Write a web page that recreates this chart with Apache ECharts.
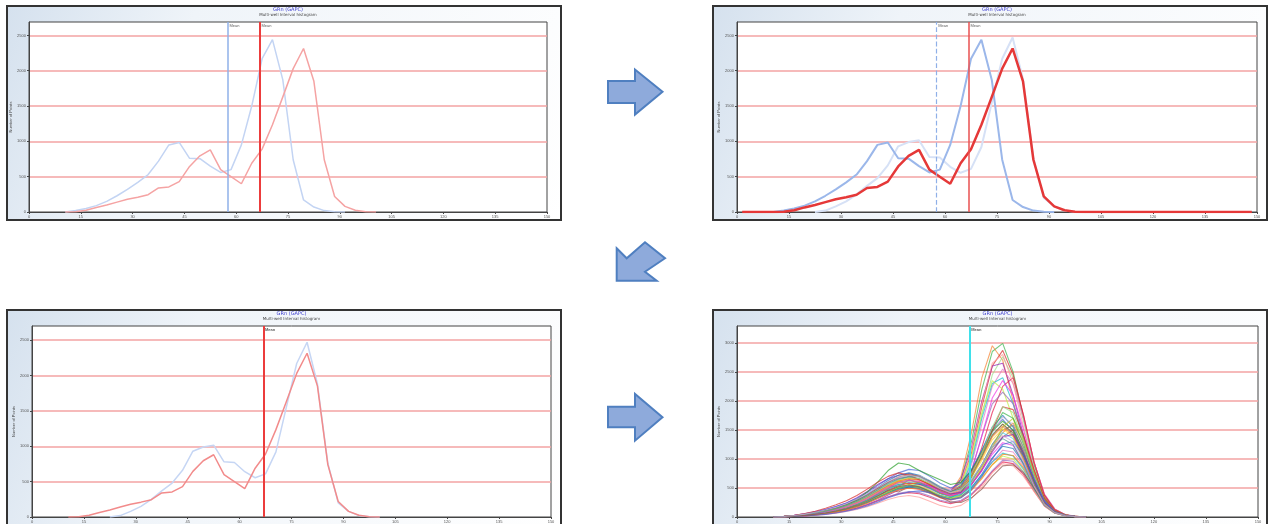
<!DOCTYPE html>
<html>
<head>
<meta charset="utf-8">
<style>
  html, body { margin: 0; padding: 0; background: #fff; }
  #chart { width: 1271px; height: 524px; }
</style>
<script src="https://cdn.jsdelivr.net/npm/echarts/dist/echarts.min.js"></script>
</head>
<body>
<div id="chart"></div>
<script>
// bin centres of the interval histogram (bin width 3)
var binCenters = [1.5, 4.5, 7.5, 10.5, 13.5, 16.5, 19.5, 22.5, 25.5, 28.5, 31.5, 34.5, 37.5, 40.5, 43.5,
  46.5, 49.5, 52.5, 55.5, 58.5, 61.5, 64.5, 67.5, 70.5, 73.5, 76.5, 79.5, 82.5, 85.5, 88.5, 91.5, 94.5,
  97.5, 100.5, 103.5, 106.5, 109.5, 112.5, 115.5, 118.5, 121.5, 124.5, 127.5, 130.5, 133.5, 136.5,
  139.5, 142.5, 145.5, 148.5];

// counts from bin 1.5
var redWell = [0, 0, 0, 0, 3, 25, 65, 100, 140, 180, 210, 245, 340, 355, 430, 645, 795, 880, 600, 500, 400,
  690, 890, 1235, 1630, 2030, 2315, 1850, 740, 220, 80, 25, 5];
var blueWell = [0, 0, 0, 0, 20, 50, 90, 150, 230, 320, 420, 530, 720, 950, 985, 760, 755, 650, 560, 600, 950,
  1500, 2170, 2440, 1870, 740, 170, 70, 20, 5];
var blueNormalized = [0, 0, 0, 0, 0, 0, 0, 0, 20, 80, 150, 250, 370, 480, 660, 930, 990, 1015, 780, 770, 640,
  555, 610, 920, 1550, 2170, 2470, 1880, 760, 200, 80, 20, 5];

var meanBlue = 57.6, meanRed = 66.9, meanAll = 67.0;

// all wells after normalisation, counts from bin 10.5
var wellStart = 3;
var tallWells = [
  [0,5,15,30,50,80,120,170,240,330,430,520,600,640,600,520,430,400,650,1300,2200,2850,2990,2500,1700,900,350,120,40,10],
  [0,10,25,45,70,100,140,190,260,350,460,560,640,690,660,560,450,420,700,1450,2400,2950,2700,2000,1300,650,250,90,30,10],
  [0,5,20,40,60,90,130,180,250,340,440,540,620,660,640,560,470,430,600,1100,1900,2600,2870,2450,1750,950,380,130,40,10],
  [0,5,10,25,45,70,100,150,210,290,390,500,580,610,580,500,410,380,560,1000,1750,2450,2760,2400,1650,850,320,110,35,10],
  [0,10,30,55,90,130,180,240,330,440,560,660,720,750,700,600,500,460,650,1200,2000,2600,2650,2100,1400,750,280,100,30,8],
  [0,5,15,35,55,80,115,160,220,300,400,490,560,590,560,480,400,370,520,900,1600,2250,2550,2300,1700,950,400,140,45,12],
  [0,8,20,40,65,95,135,185,250,330,420,500,560,590,570,500,420,380,520,950,1700,2300,2400,1950,1350,700,260,90,30,8],
  [0,5,15,30,50,75,110,150,210,280,370,460,540,580,570,500,410,360,420,700,1200,1800,2250,2400,1750,950,380,130,40,10],
  [0,6,18,35,58,88,125,175,240,320,410,500,580,630,610,540,450,400,560,1050,1800,2350,2200,1700,1150,600,230,80,25,6],
  [0,5,12,28,48,72,105,148,205,275,360,440,510,540,520,450,370,330,450,800,1400,1950,2150,1950,1400,780,300,100,35,10],
  [0,7,19,38,62,92,132,182,250,335,435,530,610,650,630,550,460,420,600,1150,1950,2650,2800,2300,1550,800,310,105,35,9],
  [0,8,24,48,78,116,162,220,296,392,500,600,670,690,650,560,440,370,460,780,1400,2050,2350,2100,1500,800,300,100,30,8]
];
var midWells = [
  [0,8,22,45,75,110,155,210,290,390,510,630,720,760,720,620,500,440,540,800,1150,1550,1750,1550,1100,620,250,90,30,8],
  [0,5,15,30,50,75,110,155,215,295,390,490,620,560,600,520,410,360,420,600,880,1200,1450,1620,1300,760,300,100,30,8],
  [0,10,28,55,90,130,180,240,320,420,540,660,760,820,800,700,580,500,580,820,1150,1500,1680,1480,1050,580,230,80,25,6],
  [0,6,18,36,60,90,130,180,250,340,450,560,650,690,660,570,470,420,500,720,1050,1420,1600,1420,1000,560,220,75,25,6],
  [0,4,12,25,42,65,95,135,190,260,350,470,430,520,480,420,350,310,380,560,820,1150,1380,1500,1150,650,260,90,28,7],
  [0,7,20,40,65,95,135,185,255,345,450,560,660,720,710,630,520,450,520,750,1080,1450,1720,1600,1180,680,280,95,30,8],
  [0,5,14,28,46,70,100,140,195,265,350,430,500,530,510,440,360,320,390,600,900,1250,1450,1350,980,570,230,80,25,6],
  [0,8,22,44,72,106,150,210,300,430,600,800,930,900,800,720,640,560,600,800,1120,1480,1650,1500,1080,620,250,90,30,8],
  [0,5,15,32,52,78,112,158,220,300,400,540,520,640,580,560,450,390,440,620,900,1250,1500,1580,1200,700,290,100,30,8],
  [0,6,17,34,56,84,120,168,232,315,420,530,620,670,650,570,470,410,470,680,980,1330,1520,1380,980,550,220,75,25,6],
  [0,8,22,44,72,106,150,205,280,375,490,600,690,730,700,600,490,430,500,720,1040,1400,1600,1450,1040,590,240,85,28,7],
  [0,5,13,27,45,68,98,138,192,262,348,430,500,530,510,440,360,320,380,560,850,1200,1550,1700,1350,800,330,110,35,9],
  [0,4,12,24,40,62,92,130,182,250,335,420,495,530,515,450,370,330,420,680,1050,1480,1800,1700,1250,720,300,105,34,9],
  [0,7,20,40,64,94,134,184,252,338,440,540,620,660,640,560,460,400,470,700,1020,1380,1560,1400,1000,560,225,78,25,6],
  [0,10,30,60,100,150,210,280,370,480,600,700,760,720,640,560,480,430,520,760,1100,1500,1900,1850,1400,820,330,110,35,9],
  [0,7,21,42,68,100,142,196,266,354,460,560,640,680,660,580,480,420,500,740,1100,1550,1900,1800,1300,720,280,95,30,8],
  [0,4,10,20,34,52,78,112,156,214,290,380,460,520,560,540,470,400,420,560,800,1120,1380,1420,1100,660,280,95,30,8]
];
var lowWells = [
  [0,4,12,24,40,60,88,124,172,236,315,400,470,500,480,410,330,290,340,480,700,950,1150,1120,880,540,230,80,25,6],
  [0,6,16,32,52,78,112,156,215,290,385,480,560,520,580,500,400,350,390,520,720,950,1100,1050,820,500,210,75,25,6],
  [0,3,10,20,34,52,76,108,150,205,275,345,400,420,400,340,270,230,270,380,560,780,950,920,730,450,190,65,20,5],
  [0,5,14,28,46,70,100,140,195,265,350,440,520,560,540,460,370,320,360,480,680,900,1050,1000,780,470,200,70,22,5],
  [0,4,11,22,36,55,80,112,155,210,280,350,410,440,420,360,290,250,290,400,580,800,980,960,770,480,210,75,24,6],
  [0,3,8,16,28,44,66,94,130,178,238,300,350,370,340,270,200,160,200,320,520,760,920,880,700,440,190,68,22,5],
  [0,6,18,36,58,86,124,172,236,316,414,510,590,630,610,530,430,370,410,560,800,1080,1280,1230,940,560,230,80,26,6],
  [0,5,13,26,43,65,94,132,182,248,330,410,480,510,490,420,340,300,350,500,740,1020,1220,1180,920,560,240,85,28,7],
  [0,4,12,24,40,60,88,125,174,238,318,400,466,495,478,412,336,296,336,460,660,900,1080,1060,850,530,230,80,26,6],
  [0,3,9,18,30,46,68,98,138,190,255,330,390,430,450,420,360,300,330,470,700,1000,1250,1300,1050,640,270,90,28,7],
  [0,6,18,38,64,98,142,198,270,360,470,580,660,700,690,620,520,440,480,640,900,1200,1350,1250,900,500,200,70,22,5],
  [0,5,14,28,46,70,102,144,200,272,360,450,520,550,520,440,340,260,250,330,480,700,880,900,760,500,230,85,28,7],
  [0,9,26,50,82,120,168,228,306,402,510,610,690,720,690,600,490,420,470,640,900,1200,1400,1300,950,540,220,75,24,6]
];

var wellColors = ['#3cb44b', '#e6194b', '#4363d8', '#ffd92f', '#911eb4', '#f032e6', '#42d4f4', '#f58231',
  '#bfef45', '#469990', '#9a6324', '#e377c2', '#1f77b4', '#2ca02c', '#d62728', '#9467bd', '#8c564b',
  '#bcbd22', '#17becf', '#ff7f0e', '#7f7f7f', '#98df8a', '#ff9896', '#c5b0d5'];

// turn a count list into [x, y] points, dropping the empty bins at both ends
function toPoints(counts, start, keepAll) {
  var full = binCenters.map(function (x, i) {
    var v = counts[i - start];
    return [x, v === undefined ? 0 : v];
  });
  if (keepAll) return full;
  var first = 0, last = full.length - 1;
  while (first < full.length && full[first][1] === 0) first++;
  while (last > 0 && full[last][1] === 0) last--;
  return full.slice(Math.max(first - 1, 0), Math.min(last + 2, full.length));
}

var myChart = echarts.init(document.getElementById('chart'));

var frames = [
  { x: 7, y: 6, w: 554, h: 214 },
  { x: 713, y: 6, w: 554, h: 214 },
  { x: 7, y: 310, w: 554, h: 230 },
  { x: 713, y: 310, w: 554, h: 230 }
];
var grids = [
  { left: 29, top: 22, width: 518, height: 190 },
  { left: 737, top: 22, width: 520, height: 190 },
  { left: 32, top: 326, width: 519, height: 191 },
  { left: 737, top: 326, width: 521, height: 191 }
];
var yMax = [2690, 2690, 2700, 3290];

var option = {
  animation: false,
  backgroundColor: '#fff',
  title: [],
  grid: [],
  xAxis: [],
  yAxis: [],
  series: [],
  graphic: []
};

grids.forEach(function (g, i) {
  var f = frames[i];
  option.grid.push({
    left: g.left, top: g.top, width: g.width, height: g.height,
    show: true, backgroundColor: '#fff', borderColor: '#444', borderWidth: 1,
    containLabel: false, outerBoundsMode: 'none'
  });
  option.xAxis.push({
    type: 'value', gridIndex: i, min: 0, max: 150, interval: 15,
    axisLine: { show: true, onZero: false, lineStyle: { color: '#444', width: 1 } },
    axisTick: { show: true, length: 2, lineStyle: { color: '#444' } },
    axisLabel: { fontSize: 4, color: '#555', margin: 3, formatter: function (v) { return String(v); } },
    splitLine: { show: false }
  });
  option.yAxis.push({
    type: 'value', gridIndex: i, min: 0, max: yMax[i], interval: 500,
    name: 'Number of Points', nameLocation: 'middle', nameGap: 16,
    nameTextStyle: { fontSize: 4, color: '#444' },
    axisLine: { show: true, lineStyle: { color: '#444', width: 1 } },
    axisTick: { show: true, length: 2, lineStyle: { color: '#444' } },
    axisLabel: { fontSize: 4, color: '#555', margin: 3, showMaxLabel: false,
      formatter: function (v) { return String(v); } },
    splitLine: { show: true, showMinLine: false, showMaxLine: false,
      lineStyle: { color: '#f3a3a3', width: 1.5 } }
  });
  option.title.push({
    text: 'GRn (GAPC)', subtext: 'Multi-well Interval histogram',
    left: g.left + g.width / 2, top: f.y + 1.5, textAlign: 'center', itemGap: 0, padding: 0,
    textStyle: { fontSize: 5, color: '#3a3acf', fontWeight: 'normal', fontFamily: 'DejaVu Sans' },
    subtextStyle: { fontSize: 4, color: '#444', fontFamily: 'DejaVu Sans' }
  });
  // outer panel frame
  option.graphic.push({
    type: 'rect', z: -10, silent: true,
    shape: { x: f.x, y: f.y, width: f.w, height: f.h },
    style: {
      fill: new echarts.graphic.LinearGradient(0, 0, 1, 1, [
        { offset: 0, color: '#d5e1ee' }, { offset: 0.3, color: '#eff4f9' }, { offset: 1, color: '#ffffff' }
      ]),
      stroke: '#333', lineWidth: 2
    }
  });
});

function lineSeries(gi, data, color, width, opacity, type) {
  return {
    type: 'line', xAxisIndex: gi, yAxisIndex: gi, data: data, symbol: 'none', smooth: false,
    silent: true, z: 3,
    lineStyle: { color: color, width: width, opacity: opacity === undefined ? 1 : opacity, type: type || 'solid' }
  };
}

function meanSeries(gi, mean, color, width, dash, bold) {
  return {
    type: 'scatter', xAxisIndex: gi, yAxisIndex: gi, data: [[mean, yMax[gi]]],
    symbolSize: 1, itemStyle: { color: 'rgba(0,0,0,0)' }, silent: true, z: 4,
    label: { show: true, formatter: 'Mean', position: [2, 2], fontSize: 4, color: '#333',
      fontWeight: bold ? 'bold' : 'normal' },
    markLine: {
      symbol: 'none', silent: true, label: { show: false },
      lineStyle: { color: color, width: width, type: dash ? 'dashed' : 'solid' },
      data: [{ xAxis: mean }]
    }
  };
}

// panel 1: raw wells
option.series.push(lineSeries(0, toPoints(blueWell, 0), '#c3d4f3', 1.5));
option.series.push(lineSeries(0, toPoints(redWell, 0), '#f5a3a3', 1.5));
option.series.push(meanSeries(0, meanBlue, '#8fb0e8', 1.5, false));
option.series.push(meanSeries(0, meanRed, '#ec3c3c', 2, false));

// panel 2: normalising the red well against the blue one
option.series.push(lineSeries(1, toPoints(blueNormalized, 0), '#d6e1f6', 2));
option.series.push(lineSeries(1, toPoints(blueWell, 0), '#9bb7ea', 2));
option.series.push(lineSeries(1, toPoints(redWell, 0, true), '#e53838', 2.5));
option.series.push(meanSeries(1, meanBlue, '#8fb0e8', 1.2, true));
option.series.push(meanSeries(1, meanRed, '#e85050', 1.5, false));

// panel 3: after normalisation
option.series.push(lineSeries(2, toPoints(blueNormalized, 0), '#c6d6f4', 1.5));
option.series.push(lineSeries(2, toPoints(redWell, 0), '#f28b8b', 1.5));
option.series.push(meanSeries(2, meanRed, '#ec3c3c', 2, false, true));

// panel 4: every well
var allWells = tallWells.concat(midWells, lowWells);
allWells.forEach(function (w, i) {
  option.series.push(lineSeries(3, toPoints(w, wellStart), wellColors[(i * 7) % wellColors.length], 1.1, 0.7));
});
option.series.push(meanSeries(3, meanAll, '#3fe0ea', 2, false, true));

// arrows between the panels
var arrowStyle = { fill: '#8eaadb', stroke: '#4f7fc0', lineWidth: 2 };
option.graphic.push(
  { type: 'polygon', z: 10, silent: true, style: arrowStyle,
    shape: { points: [[608, 81], [635, 81], [635, 69.5], [662.5, 91.7], [635, 114.5], [635, 103], [608, 103]] } },
  { type: 'polygon', z: 10, silent: true, style: arrowStyle,
    shape: { points: [[616.7, 248.3], [626.7, 258.3], [645, 242.3], [665, 258.3], [645, 271.7], [656.7, 280.7], [616.7, 280.7]] } },
  { type: 'polygon', z: 10, silent: true, style: arrowStyle,
    shape: { points: [[608, 406.7], [635, 406.7], [635, 394], [662.5, 417.3], [635, 440.7], [635, 427.3], [608, 427.3]] } }
);

myChart.setOption(option);
</script>
</body>
</html>
